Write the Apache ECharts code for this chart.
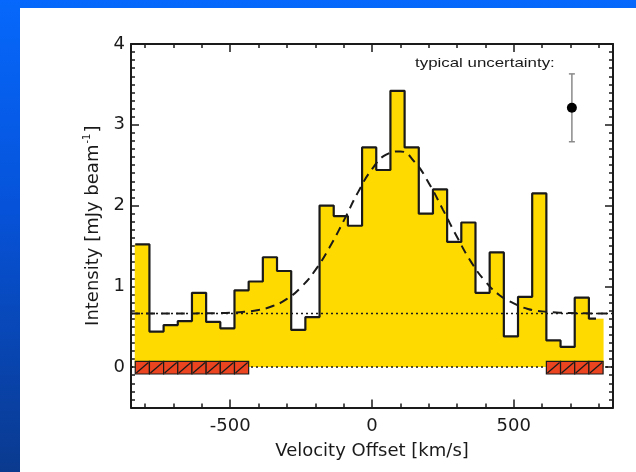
<!DOCTYPE html>
<html>
<head>
<meta charset="utf-8">
<script src="https://cdn.jsdelivr.net/npm/echarts@6/dist/echarts.min.js"></script>
<style>
  html, body { margin: 0; padding: 0; width: 636px; height: 472px; overflow: hidden; }
  body { background: linear-gradient(to bottom, #0668fc 0%, #0652d8 45%, #0a3a8f 100%); position: relative; }
  #panel { position: absolute; left: 20px; top: 8px; width: 616px; height: 464px; background: #ffffff; }
  #chart { position: absolute; left: 0; top: 0; width: 636px; height: 472px; }
</style>
</head>
<body>
<div id="panel"></div>
<div id="chart"></div>
<script>
// ---- data ----
const binCenters = [-810, -760, -710, -660, -610, -560, -510, -460, -410, -360, -310, -260, -210, -160, -110, -60, -10,
                    40, 90, 140, 190, 240, 290, 340, 390, 440, 490, 540, 590, 640, 690, 740, 790];
const intensity  = [1.52, 0.44, 0.52, 0.57, 0.92, 0.56, 0.48, 0.95, 1.06, 1.36, 1.19, 0.46, 0.62, 2.00, 1.87, 1.75, 2.72,
                    2.44, 3.42, 2.72, 1.90, 2.20, 1.55, 1.79, 0.92, 1.42, 0.38, 0.87, 2.15, 0.33, 0.25, 0.86, 0.60];
const binWidth = 50;

const fitX = [-850, -800, -750, -700, -650, -600, -550, -500, -450, -400, -350, -300, -250, -200, -150, -100, -50,
              0, 50, 100, 150, 200, 250, 300, 350, 400, 450, 500, 550, 600, 650, 700, 750, 800, 850];
const fitY = [0.665, 0.665, 0.665, 0.665, 0.665, 0.666, 0.668, 0.672, 0.684, 0.708, 0.756, 0.844, 0.99, 1.20, 1.48, 1.81, 2.16,
              2.45, 2.63, 2.67, 2.54, 2.28, 1.95, 1.61, 1.30, 1.06, 0.89, 0.79, 0.72, 0.69, 0.676, 0.67, 0.666, 0.665, 0.665];

const continuumLevel = 0.665;
const zeroLevel = 0;
const maskCellCenters = [-810, -760, -710, -660, -610, -560, -510, -460, 640, 690, 740, 790];
const maskBand = [0.07, -0.085];

const uncertaintyPoint = [705, 3.21];
const uncertaintyErr = 0.42;

const xRange = [-850, 850];
const yRange = [-0.5, 4];
const xMajorTicks = [-500, 0, 500];
const xTickLabels = [-500, 0, 500];
const yMajorTicks = [0, 1, 2, 3, 4];
const yTickLabels = [0, 1, 2, 3, 4];

// ---- derived ----
const xMinorTicks = [];
for (let v = -800; v <= 800; v += 100) xMinorTicks.push(v);
const yMinorTicks = [];
for (let i = -5; i <= 40; i++) yMinorTicks.push(i / 10);

const outlineData = binCenters.map((c, i) => [c - binWidth / 2, intensity[i]]);
outlineData.push([binCenters[binCenters.length - 1], intensity[intensity.length - 1]]);

const fillData = binCenters.map((c, i) => [c, intensity[i]]);
const fitData = fitX.map((x, i) => [x, fitY[i]]);

const FONT = '"DejaVu Sans", "Liberation Sans", Arial, sans-serif';
const INK = '#1a1a1a';

function makeX(pos, ticks, len, withLine, labels) {
  return {
    type: 'value', position: pos, min: xRange[0], max: xRange[1],
    axisLine: { show: withLine, onZero: false, lineStyle: { color: INK, width: 2 } },
    axisTick: { show: true, inside: true, length: len, customValues: ticks, lineStyle: { color: INK, width: 1.5 } },
    axisLabel: labels ? { show: true, customValues: labels, color: INK, fontSize: 18, fontFamily: FONT, margin: 10 } : { show: false },
    splitLine: { show: false }
  };
}
function makeY(pos, ticks, len, withLine, labels) {
  return {
    type: 'value', position: pos, min: yRange[0], max: yRange[1],
    axisLine: { show: withLine, onZero: false, lineStyle: { color: INK, width: 2 } },
    axisTick: { show: true, inside: true, length: len, customValues: ticks, lineStyle: { color: INK, width: 1.5 } },
    axisLabel: labels ? { show: true, customValues: labels, color: INK, fontSize: 18, fontFamily: FONT, margin: 6 } : { show: false },
    splitLine: { show: false }
  };
}

const xBottom = makeX('bottom', xMajorTicks, 8, true, xTickLabels);
xBottom.name = 'Velocity Offset [km/s]';
xBottom.nameLocation = 'middle';
xBottom.nameGap = 35;
xBottom.nameTextStyle = { color: INK, fontSize: 18, fontFamily: FONT };

const yLeft = makeY('left', yMajorTicks, 8, true, yTickLabels);
yLeft.name = '{m|Intensity [mJy beam}{s|-1}{m|]}';
yLeft.nameLocation = 'middle';
yLeft.nameGap = 28;
yLeft.nameTextStyle = {
  color: INK, fontFamily: FONT,
  rich: {
    m: { fontSize: 18, fontFamily: FONT, color: INK, lineHeight: 20, verticalAlign: 'bottom' },
    s: { fontSize: 10, fontFamily: FONT, color: INK, lineHeight: 20, verticalAlign: 'top', padding: [0, 1, 8, 1] }
  }
};

const chart = echarts.init(document.getElementById('chart'), null, { renderer: 'canvas' });
chart.setOption({
  backgroundColor: 'transparent',
  animation: false,
  grid: { left: 131, right: 23, top: 44, bottom: 64.5, containLabel: false, outerBoundsMode: 'none' },
  xAxis: [
    xBottom,
    makeX('bottom', xMinorTicks, 4, false, null),
    makeX('top', xMajorTicks, 8, true, null),
    makeX('top', xMinorTicks, 4, false, null)
  ],
  yAxis: [
    yLeft,
    makeY('left', yMinorTicks, 4, false, null),
    makeY('right', yMajorTicks, 8, true, null),
    makeY('right', yMinorTicks, 4, false, null)
  ],
  graphic: [{
    type: 'text', x: 415, y: 63, scaleX: 1.25, scaleY: 1,
    style: { text: 'typical uncertainty:', fill: INK, font: '13.5px "Liberation Sans", Arial, sans-serif',
             textAlign: 'left', textVerticalAlign: 'middle' }
  }],
  series: [
    {
      type: 'custom', name: 'fill', xAxisIndex: 0, yAxisIndex: 0, z: 1,
      data: fillData,
      renderItem: function (params, api) {
        const c = api.value(0), v = api.value(1);
        const p0 = api.coord([c - binWidth / 2, zeroLevel]);
        const p1 = api.coord([c + binWidth / 2, v]);
        return {
          type: 'rect',
          shape: { x: p0[0] - 0.5, y: p1[1], width: p1[0] - p0[0] + 1, height: p0[1] - p1[1] },
          style: { fill: '#FFDA00', stroke: null }
        };
      }
    },
    {
      type: 'line', name: 'continuum', z: 2, symbol: 'none', silent: true,
      data: [[xRange[0], continuumLevel], [xRange[1], continuumLevel]],
      lineStyle: { color: INK, width: 1.5, type: [2, 3] }
    },
    {
      type: 'line', name: 'zero', z: 2, symbol: 'none', silent: true,
      data: [[xRange[0], zeroLevel], [xRange[1], zeroLevel]],
      lineStyle: { color: INK, width: 1.5, type: [2, 3] }
    },
    {
      type: 'line', name: 'outline', z: 3, symbol: 'none', step: 'end',
      data: outlineData,
      lineStyle: { color: INK, width: 2.2 }
    },
    {
      type: 'line', name: 'fit', z: 4, symbol: 'none', smooth: true,
      data: fitData,
      lineStyle: { color: INK, width: 2, type: [9, 6] }
    },
    {
      type: 'custom', name: 'mask', z: 5,
      data: maskCellCenters.map(c => [c]),
      renderItem: function (params, api) {
        const c = api.value(0);
        const a = api.coord([c - binWidth / 2, maskBand[0]]);
        const b = api.coord([c + binWidth / 2, maskBand[1]]);
        return {
          type: 'group',
          children: [
            { type: 'rect', shape: { x: a[0], y: a[1], width: b[0] - a[0], height: b[1] - a[1] },
              style: { fill: '#EA4420', stroke: INK, lineWidth: 1.2 } },
            { type: 'line', shape: { x1: a[0] + 1, y1: b[1] - 1, x2: b[0] - 1, y2: a[1] + 1 },
              style: { stroke: INK, lineWidth: 1.2 } }
          ]
        };
      }
    },
    {
      type: 'custom', name: 'errbar', z: 5,
      data: [[uncertaintyPoint[0], uncertaintyPoint[1], uncertaintyErr]],
      renderItem: function (params, api) {
        const x = api.value(0), y = api.value(1), e = api.value(2);
        const top = api.coord([x, y + e]);
        const bot = api.coord([x, y - e]);
        const ctr = api.coord([x, y]);
        const st = { stroke: '#8a8a8a', lineWidth: 1.5 };
        return {
          type: 'group',
          children: [
            { type: 'line', shape: { x1: top[0], y1: top[1], x2: bot[0], y2: bot[1] }, style: st },
            { type: 'line', shape: { x1: top[0] - 3, y1: top[1], x2: top[0] + 3, y2: top[1] }, style: st },
            { type: 'line', shape: { x1: bot[0] - 3, y1: bot[1], x2: bot[0] + 3, y2: bot[1] }, style: st },
            { type: 'circle', shape: { cx: ctr[0], cy: ctr[1], r: 5 }, style: { fill: '#000000' } }
          ]
        };
      }
    }
  ]
});
</script>
</body>
</html>
